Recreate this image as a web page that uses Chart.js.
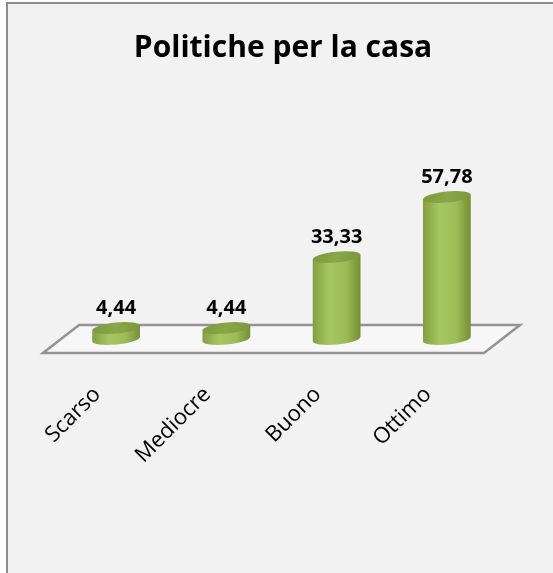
<!DOCTYPE html>
<html>
<head>
<meta charset="utf-8">
<script src="https://cdn.jsdelivr.net/npm/chart.js@4"></script>
<style>
  html, body { margin: 0; padding: 0; background: #fff; }
  #frame {
    position: absolute; left: 6px; top: 2px;
    width: 545px; height: 569px;
    background: #f2f2f2;
    border-left: 2px solid #8c8c8c;
    border-top: 2px solid #8c8c8c;
  }
  canvas { display: block; }
</style>
</head>
<body>
<div id="frame"><canvas id="chart" width="545" height="569"></canvas></div>
<script>
const categories = ["Scarso", "Mediocre", "Buono", "Ottimo"];
const values = [4.44, 4.44, 33.33, 57.78];
const chartTitle = "Politiche per la casa";

const fmt = (v) => v.toFixed(2).replace(".", ",");

// title, floor and cylinders drawn around the (invisible) bar elements
const cylinders = {
  id: "cylinders",
  beforeDatasetsDraw(chart) {
    const { ctx, chartArea, scales } = chart;
    const y0 = scales.y.getPixelForValue(0);
    const dx = 18, dy = 14;
    ctx.save();
    ctx.fillStyle = "#000";
    ctx.font = "bold 30px 'Open Sans'";
    ctx.textAlign = "center";
    ctx.textBaseline = "alphabetic";
    ctx.fillText(chartTitle, 275, 53);

    ctx.beginPath();
    ctx.moveTo(chartArea.left - dx, y0 + dy);
    ctx.lineTo(chartArea.left + dx, y0 - dy);
    ctx.lineTo(chartArea.right + dx, y0 - dy);
    ctx.lineTo(chartArea.right - dx, y0 + dy);
    ctx.closePath();
    ctx.fillStyle = "#f7f7f7";
    ctx.fill();
    ctx.lineWidth = 2.5;
    ctx.strokeStyle = "#939393";
    ctx.stroke();
    ctx.restore();
  },
  afterDatasetsDraw(chart) {
    const { ctx } = chart;
    const meta = chart.getDatasetMeta(0);
    const rx = 24, ry = 5.5, rot = -0.1;
    const cx = Math.cos(rot) * rx, cy = Math.sin(rot) * rx;
    ctx.save();
    meta.data.forEach((bar, i) => {
      const x = bar.x, top = bar.y, base = bar.base;
      const g = ctx.createLinearGradient(x - rx, 0, x + rx, 0);
      g.addColorStop(0, "#829f40");
      g.addColorStop(0.35, "#a7c762");
      g.addColorStop(0.7, "#9dbc57");
      g.addColorStop(1, "#738f33");
      ctx.beginPath();
      ctx.moveTo(x - cx, top - cy);
      ctx.lineTo(x - cx, base - cy);
      ctx.ellipse(x, base, rx, ry, rot, Math.PI, 0, true);
      ctx.lineTo(x + cx, top + cy);
      ctx.closePath();
      ctx.fillStyle = g;
      ctx.fill();

      const t = ctx.createLinearGradient(x - rx, 0, x + rx, 0);
      t.addColorStop(0, "#7d9a3d");
      t.addColorStop(0.5, "#89a748");
      t.addColorStop(1, "#7b973b");
      ctx.beginPath();
      ctx.ellipse(x, top, rx, ry, rot, 0, Math.PI * 2);
      ctx.fillStyle = t;
      ctx.fill();

      // value label
      ctx.fillStyle = "#000";
      ctx.font = "bold 20px 'Open Sans'";
      ctx.textAlign = "center";
      ctx.textBaseline = "middle";
      ctx.fillText(fmt(values[i]), x, top - 20);

      // category label, rotated
      ctx.save();
      ctx.translate(x - 19, base + 52);
      ctx.rotate(-Math.PI / 4);
      ctx.font = "22px 'Open Sans'";
      ctx.textAlign = "right";
      ctx.fillText(categories[i], 0, 0);
      ctx.restore();
    });
    ctx.restore();
  }
};

new Chart(document.getElementById("chart"), {
  type: "bar",
  data: {
    labels: categories,
    datasets: [{
      data: values,
      backgroundColor: "rgba(0,0,0,0)",
      borderWidth: 0
    }]
  },
  options: {
    responsive: false,
    animation: false,
    layout: { padding: { left: 53, right: 51, top: 163, bottom: 234 } },
    scales: {
      x: { display: false },
      y: { display: false, min: 0, max: 70 }
    },
    plugins: {
      legend: { display: false },
      tooltip: { enabled: false },
      title: { display: false }
    }
  },
  plugins: [cylinders]
});
</script>
</body>
</html>
